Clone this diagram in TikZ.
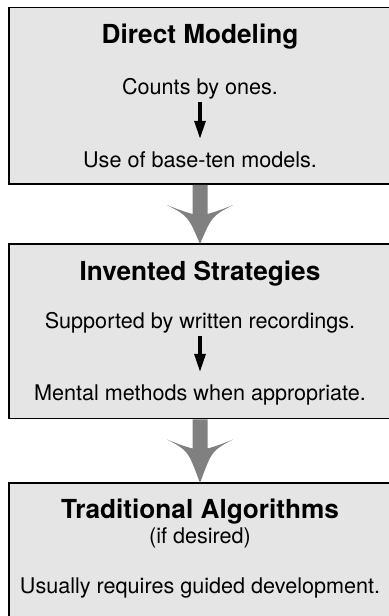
\documentclass[tikz,border=0pt]{standalone}
\usepackage{fontspec}
\setmainfont{TeX Gyre Heros}
\usepackage{tikz}
\usetikzlibrary{positioning}
\usetikzlibrary{arrows.meta}

\begin{document}
\begin{tikzpicture}[
stage/.style={draw=black, line width=0.75pt, fill=black!10, rectangle,
    minimum width=191pt, outer sep=0pt},
    heading/.style={inner sep=0pt, font=\fontsize{13.1}{15}\selectfont\bfseries},
    line/.style={inner sep=0pt, font=\fontsize{10.8}{12.5}\selectfont},
    step arrow/.style={line width=1.6pt, -{Triangle[length=9pt, width=5.5pt]},
    shorten <=1.5pt, shorten >=6pt},
    bigarrow/.style={fill=black!50}]
    \useasboundingbox (0,0) rectangle (194.5pt,-308pt);
    \node[stage, minimum height=88.25pt] (modeling) at (100pt,-47.875pt) {};
    \node[stage, minimum height=87.25pt] (invented) [below=30pt of modeling] {};
    \node[stage, minimum height=80pt] (traditional) [below=32.25pt of invented] {};

    \node[heading] (modeling-title) [below=17.9pt of modeling.north, anchor=base] {Direct Modeling};
    \node[line] (counts) [below=43.25pt of modeling.north, anchor=base] {Counts by ones.};
    \node[line] (models) [below=79.75pt of modeling.north, anchor=base] {Use of base-ten models.};

    \node[heading] (invented-title) [below=18pt of invented.north, anchor=base] {Invented Strategies};
    \node[line] (written) [below=42.15pt of invented.north, anchor=base] {Supported by written recordings.};
    \node[line] (mental) [below=78pt of invented.north, anchor=base] {Mental methods when appropriate.};

    \node[heading] (traditional-title) [below=17.5pt of traditional.north, anchor=base] {Traditional Algorithms};
    \node[line] (desired) [below=30pt of traditional.north, anchor=base] {(if desired)};
    \node[line] (guided) [below=55pt of traditional.north, anchor=base] {Usually requires guided development.};

\draw[step arrow] (counts) -- (models);
\draw[step arrow] (written) -- (mental);
\foreach \from/\to in {modeling/invented, invented/traditional} {
  \begin{scope}[shift={(\from.south)}]
    \fill[bigarrow] (-3.75pt,-0.4pt) -- (-3.75pt,-15pt)
      .. controls (-9pt,-13.5pt) .. (-16.5pt,-10.5pt)
      .. controls (-6pt,-16pt) .. (\to.north)
      .. controls (6pt,-16pt) .. (16.5pt,-10.5pt)
      .. controls (9pt,-13.5pt) .. (3.75pt,-15pt) -- (3.75pt,-0.4pt) -- cycle;
  \end{scope}
}
\end{tikzpicture}
\end{document}
